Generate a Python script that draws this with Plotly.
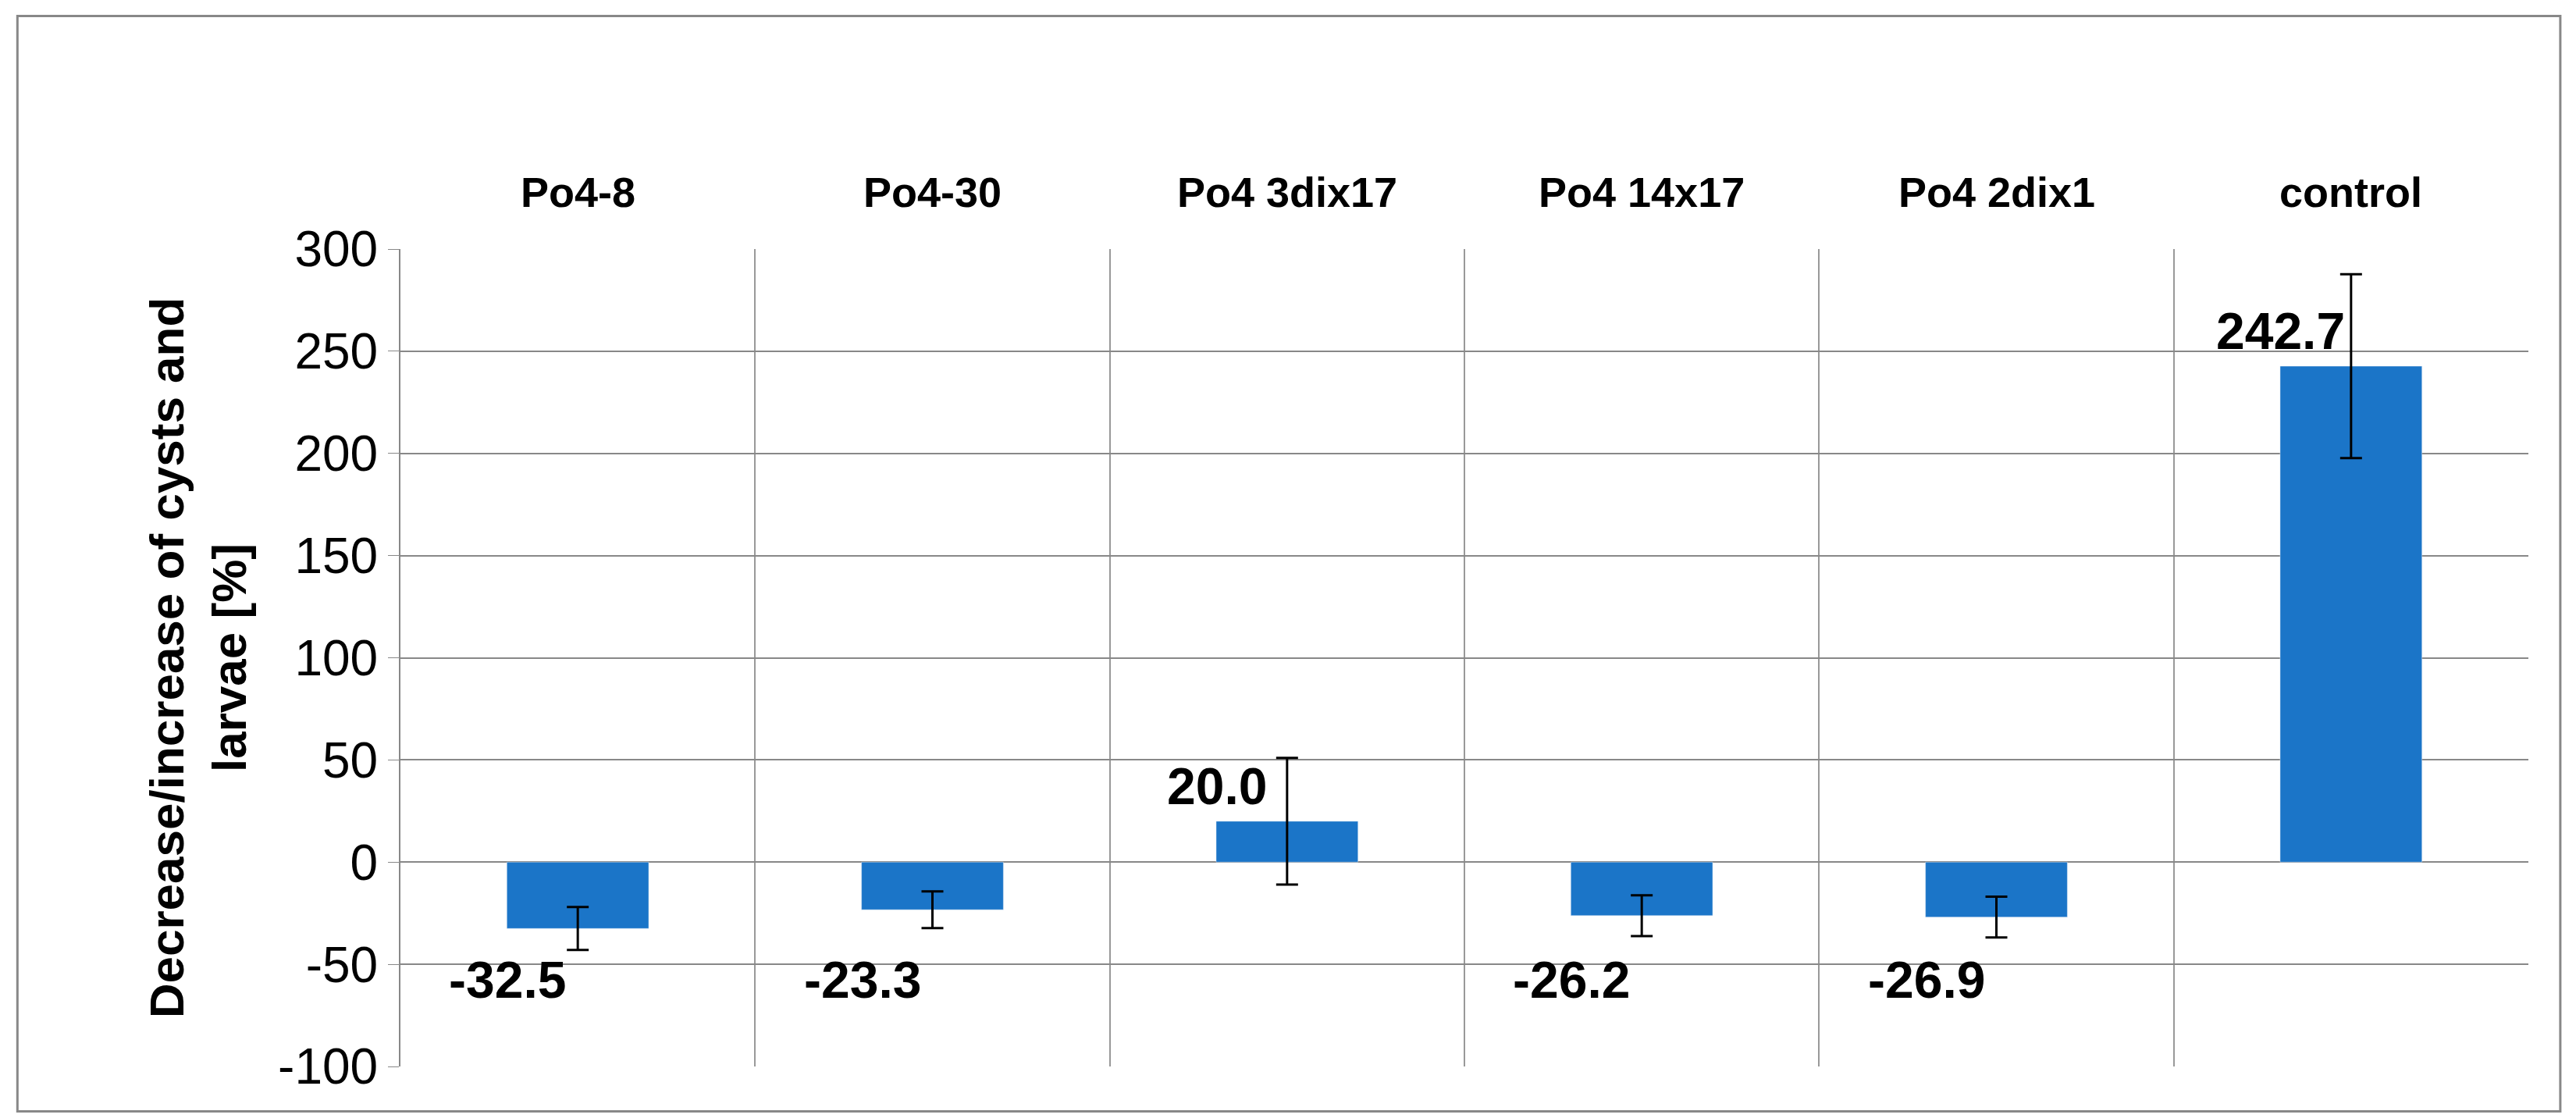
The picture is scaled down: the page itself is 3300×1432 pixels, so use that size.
import plotly.graph_objects as go

categories = ["Po4-8", "Po4-30", "Po4 3dix17", "Po4 14x17", "Po4 2dix1", "control"]
values = [-32.5, -23.3, 20.0, -26.2, -26.9, 242.7]
errors = [10.5, 9.0, 31.0, 10.0, 10.0, 45.0]
yticks = [-100, -50, 0, 50, 100, 150, 200, 250, 300]

xs = list(range(len(categories)))
fig = go.Figure(go.Bar(
    x=xs, y=values, width=0.4, marker_color="#1b75c8",
    error_y=dict(type="data", array=errors, color="black", thickness=3, width=14),
))
for x, v in zip(xs, values):
    fig.add_annotation(x=x, y=v if v > 0 else -50, text=f"<b>{v:.1f}</b>", showarrow=False,
                       xshift=-90, yshift=(45 if v > 0 else -20),
                       font=dict(size=66, color="black", family="Liberation Sans, Arial"))
for x, c in zip(xs, categories):
    fig.add_annotation(x=x, y=1.10, yref="paper", text=f"<b>{c}</b>", showarrow=False,
                       font=dict(size=54, color="black", family="Liberation Sans, Arial"))
fig.add_shape(type="rect", xref="paper", yref="paper", x0=-0.18, x1=1.015, y0=-0.055, y1=1.285,
              line=dict(color="#888", width=3))
fig.update_layout(
    width=3300, height=1432, plot_bgcolor="white", paper_bgcolor="white",
    margin=dict(l=505, r=69, t=311, b=74), showlegend=False,
    font=dict(family="Liberation Sans, Arial", color="black"),
    xaxis=dict(range=[-0.5, 5.5], tickvals=[i - 0.5 for i in range(7)], ticktext=[""] * 7,
               showgrid=True, gridcolor="#999", gridwidth=2, zeroline=False, showline=False, ticks=""),
    yaxis=dict(range=[-100, 300], tickvals=yticks, ticktext=[str(t) for t in yticks],
               tickfont=dict(size=64), showgrid=True,
               gridcolor="#888", gridwidth=2, zeroline=True, zerolinecolor="#888", zerolinewidth=2,
               showline=True, linecolor="#888", linewidth=2, ticks="outside", ticklen=14, tickcolor="#888",
               title=dict(text="<b>Decrease/increase of cysts and<br>larvae [%]</b>", font=dict(size=62), standoff=20)),
)
fig.write_html("out.html")
